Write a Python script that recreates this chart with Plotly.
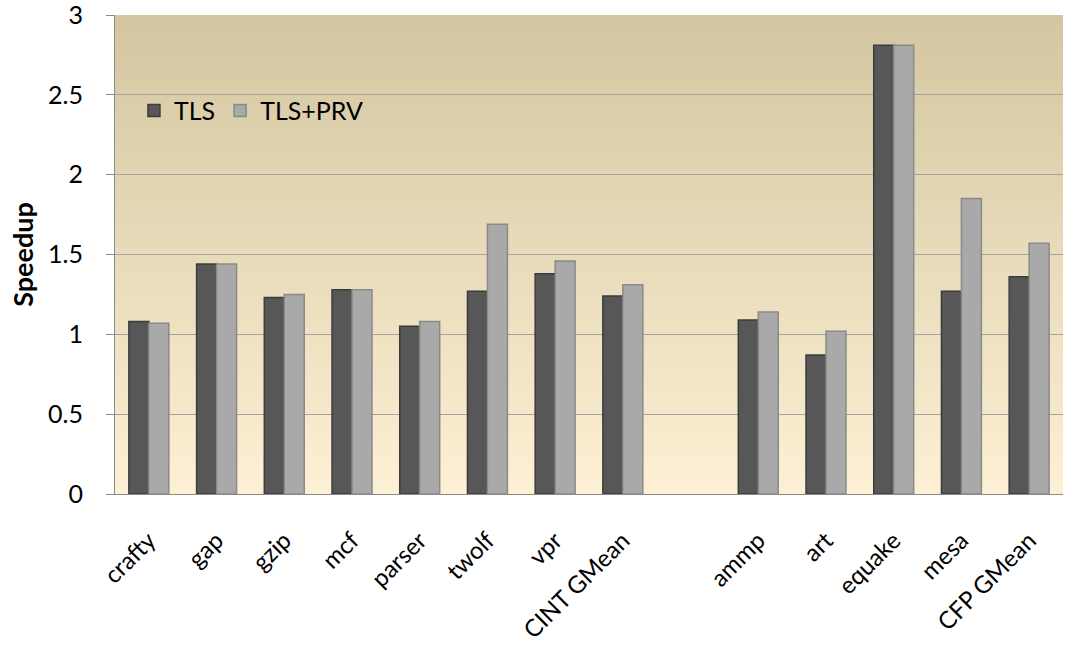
import plotly.graph_objects as go

# Benchmarks (blank slot separates integer and floating-point suites)
categories = ["crafty", "gap", "gzip", "mcf", "parser", "twolf", "vpr", "CINT GMean",
              " ", "ammp", "art", "equake", "mesa", "CFP GMean"]
tls = [1.08, 1.44, 1.23, 1.28, 1.05, 1.27, 1.38, 1.24, None, 1.09, 0.87, 2.81, 1.27, 1.36]
tls_prv = [1.07, 1.44, 1.25, 1.28, 1.08, 1.69, 1.46, 1.31, None, 1.14, 1.02, 2.81, 1.85, 1.57]
y_ticks = [0, 0.5, 1, 1.5, 2, 2.5, 3]
y_tick_text = ["0", "0.5", "1", "1.5", "2", "2.5", "3"]

FONT = "Lato, Open Sans, sans-serif"

fig = go.Figure()
fig.add_trace(go.Bar(name="TLS", x=categories, y=tls,
                     marker=dict(color="#575757", line=dict(color="#3c3c3c", width=1.5))))
fig.add_trace(go.Bar(name="TLS+PRV", x=categories, y=tls_prv,
                     marker=dict(color="#a9a9a9", line=dict(color="#8a8a8a", width=1.5))))

# Vertical tan-to-cream gradient behind the plot area
def lerp(c1, c2, t):
    return tuple(round(a + (b - a) * t) for a, b in zip(c1, c2))

top_c = (211, 198, 160)
bot_c = (253, 240, 212)
n = 240
shapes = []
for i in range(n):
    t = i / (n - 1)
    r, g, b = lerp(top_c, bot_c, t)
    shapes.append(dict(type="rect", xref="paper", yref="paper",
                       x0=0, x1=1, y0=1 - (i + 1.5) / n, y1=1 - i / n,
                       fillcolor=f"rgb({r},{g},{b})", line=dict(width=0), layer="below"))

fig.update_layout(
    width=1077, height=646,
    margin=dict(l=115, r=14, t=15, b=152, autoexpand=False),
    paper_bgcolor="white", plot_bgcolor="rgba(0,0,0,0)",
    barmode="group", bargap=0.41, bargroupgap=0.0,
    shapes=shapes,
    font=dict(family=FONT, color="black"),
    legend=dict(orientation="h", x=0.02, y=0.80, xanchor="left", yanchor="middle",
                bgcolor="rgba(0,0,0,0)", font=dict(size=25, family=FONT),
                itemwidth=30, traceorder="normal"),
    yaxis=dict(range=[0, 3], tickvals=y_ticks, ticktext=y_tick_text,
               tickfont=dict(size=25, family=FONT), automargin=False,
               ticklabeloverflow="allow", ticklabelstandoff=18,
               showgrid=True, gridcolor="#a3a3a3", gridwidth=1,
               showline=True, linecolor="#8a8a8a", linewidth=1,
               ticks="outside", ticklen=8, tickcolor="#8a8a8a",
               zeroline=False,
               title=dict(text="<b>Speedup</b>", font=dict(size=27, family=FONT), standoff=6)),
    xaxis=dict(tickangle=-45, tickfont=dict(size=24, family=FONT), automargin=False,
               ticklabeloverflow="allow", ticklabelstandoff=22,
               showline=True, linecolor="#8a8a8a", linewidth=1,
               showgrid=False, ticks=""),
)

fig.write_html("out.html")
